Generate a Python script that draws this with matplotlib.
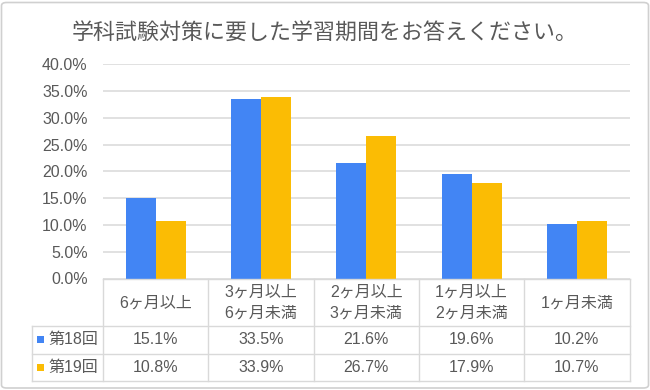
import matplotlib
matplotlib.use("Agg")
import matplotlib.pyplot as plt
from matplotlib.patches import FancyBboxPatch, Rectangle
from matplotlib.lines import Line2D
import matplotlib.transforms as mtransforms

plt.rcParams['font.family'] = ['Liberation Sans', 'Noto Sans CJK JP', 'DejaVu Sans']

title = "学科試験対策に要した学習期間をお答えください。"
categories = ["6ヶ月以上", "3ヶ月以上\n6ヶ月未満", "2ヶ月以上\n3ヶ月未満", "1ヶ月以上\n2ヶ月未満", "1ヶ月未満"]
series_names = ["第18回", "第19回"]
s18 = [15.1, 33.5, 21.6, 19.6, 10.2]
s19 = [10.8, 33.9, 26.7, 17.9, 10.7]
yticks = [0, 5, 10, 15, 20, 25, 30, 35, 40]
colors = ["#4285F4", "#FBBC04"]
text_color = "#595959"
grid_color = "#d9d9d9"

W, H = 650, 390
fig = plt.figure(figsize=(W / 100, H / 100), dpi=100)
fig.patch.set_facecolor("white")

def fx(px):
    return px / W

def fy(py):
    return 1 - py / H

# outer border
border = FancyBboxPatch((fx(1.5), fy(388)), fx(647), (387 - 1.5) / H,
                        boxstyle="round,pad=0,rounding_size=0.008",
                        transform=fig.transFigure, fill=False,
                        edgecolor="#d0d0d0", linewidth=1.2)
fig.patches.append(border)

ax_left, ax_right = 103, 629.5
ax_top, ax_bottom = 64.3, 278.5
ax = fig.add_axes([fx(ax_left), fy(ax_bottom), (ax_right - ax_left) / W, (ax_bottom - ax_top) / H])

n = len(categories)
x = list(range(n))
bw = 0.285
ax.bar([i - bw / 2 for i in x], s18, width=bw, color=colors[0], zorder=3)
ax.bar([i + bw / 2 for i in x], s19, width=bw, color=colors[1], zorder=3)
ax.set_xlim(-0.5, n - 0.5)
ax.set_ylim(0, 40)
ax.set_yticks(yticks)
ax.set_yticklabels([f"{v:.1f}%" for v in yticks], color=text_color, fontsize=11.5)
ax.tick_params(axis='y', length=0, pad=11)
ax.set_xticks([])
ax.grid(axis='y', color=grid_color, linewidth=1.1, zorder=0)
for s in ax.spines.values():
    s.set_visible(False)
ax.set_facecolor("none")

fig.text(0.5, fy(33), title, ha="center", va="center", fontsize=15.8,
         color=text_color, family=['Noto Sans CJK JP', 'DejaVu Sans'])

# table
trans = mtransforms.blended_transform_factory(ax.transData, fig.transFigure)
row_top, row_h1, row_h2, row_bot = 278.5, 326, 353.5, 381
lab_left = 32
lw = 1.0

def hline(y, x0, x1):
    fig.add_artist(Line2D([fx(x0), fx(x1)], [fy(y), fy(y)], transform=fig.transFigure,
                          color=grid_color, linewidth=lw))

def vline_data(xd, y0, y1):
    fig.add_artist(Line2D([xd, xd], [fy(y0), fy(y1)], transform=trans,
                          color=grid_color, linewidth=lw))

hline(row_top, ax_left, ax_right)
for y in (row_h1, row_h2, row_bot):
    hline(y, lab_left, ax_right)
for i in range(n + 1):
    vline_data(i - 0.5, row_top, row_bot)
fig.add_artist(Line2D([fx(lab_left)] * 2, [fy(row_h1), fy(row_bot)], transform=fig.transFigure,
                      color=grid_color, linewidth=lw))

fs = 11.5
for i, c in enumerate(categories):
    fig.text(i, fy((row_top + row_h1) / 2 + 0.5), c, transform=trans, ha="center", va="center",
             fontsize=fs, color=text_color, linespacing=1.5)
    fig.text(i, fy((row_h1 + row_h2) / 2), f"{s18[i]:.1f}%", transform=trans, ha="center",
             va="center", fontsize=fs, color=text_color)
    fig.text(i, fy((row_h2 + row_bot) / 2), f"{s19[i]:.1f}%", transform=trans, ha="center",
             va="center", fontsize=fs, color=text_color)

for k, (name, col) in enumerate(zip(series_names, colors)):
    yc = (row_h1 + row_h2) / 2 if k == 0 else (row_h2 + row_bot) / 2
    fig.patches.append(Rectangle((fx(37), fy(yc + 3.5)), 7 / W, 7 / H, transform=fig.transFigure,
                                 facecolor=col, edgecolor="none"))
    fig.text(fx(48), fy(yc), name, ha="left", va="center", fontsize=fs, color=text_color)

fig.savefig("out.png", dpi=100)
